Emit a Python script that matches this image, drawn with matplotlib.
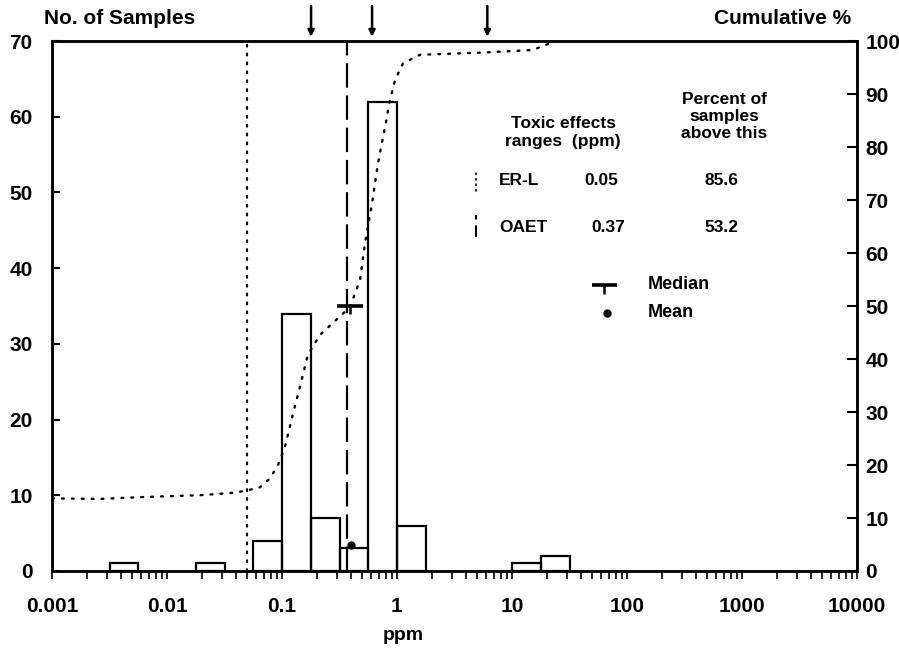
import numpy as np
import matplotlib
matplotlib.use("Agg")
import matplotlib.pyplot as plt
from matplotlib.ticker import FixedLocator, LogLocator, NullFormatter

plt.rcParams['font.family'] = ['Liberation Sans', 'DejaVu Sans']
plt.rcParams['font.weight'] = 'bold'

# ---------------- data ----------------
bin_left_log = [-2.5, -1.75, -1.25, -1.0, -0.75, -0.5, -0.25, 0.0, 1.0, 1.25]
bin_width_log = 0.25
counts = [1, 1, 4, 34, 7, 3, 62, 6, 1, 2]

cum_ppm = [0.001, 0.0026, 0.0071, 0.0194, 0.0353, 0.0477, 0.0644, 0.0787, 0.0923,
           0.106, 0.125, 0.143, 0.168, 0.213, 0.277, 0.39, 0.477, 0.527, 0.607,
           0.684, 0.787, 0.869, 0.961, 1.127, 1.585, 5.3, 15.2, 24.0, 10000]
cum_pct = [13.7, 13.6, 14.0, 14.3, 14.7, 15.1, 15.8, 17.5, 20.0,
           23.4, 29.8, 34.7, 40.8, 44.5, 46.8, 49.8, 54.9, 61.9, 69.4,
           77.0, 83.8, 88.9, 92.6, 95.8, 97.4, 97.8, 98.3, 100, 100]

erl_ppm = 0.05
oaet_ppm = 0.37
median_ppm, median_count = 0.39, 35
mean_ppm, mean_count = 0.40, 3.4
arrow_ppm = [0.179, 0.607, 6.1]

x_tick_vals = [0.001, 0.01, 0.1, 1, 10, 100, 1000, 10000]
x_tick_labels = ['0.001', '0.01', '0.1', '1', '10', '100', '1000', '10000']
y_left_ticks = [0, 10, 20, 30, 40, 50, 60, 70]
y_right_ticks = [0, 10, 20, 30, 40, 50, 60, 70, 80, 90, 100]

legend_rows = [("ER-L", "0.05", "85.6"), ("OAET", "0.37", "53.2")]

# ---------------- figure ----------------
W, H = 899, 653
fig = plt.figure(figsize=(W / 100, H / 100), dpi=100)
L, R, T, B = 52, 857, 41, 571
ax = fig.add_axes([L / W, 1 - B / H, (R - L) / W, (B - T) / H])
ax2 = ax.twinx()

ax.set_xscale('log')
ax.set_xlim(1e-3, 1e4)
ax.set_ylim(0, 70)
ax2.set_ylim(0, 100)

# histogram bars
lefts = [10 ** v for v in bin_left_log]
widths = [10 ** (v + bin_width_log) - 10 ** v for v in bin_left_log]
ax.bar(lefts, counts, width=widths, align='edge', fill=False,
       edgecolor='black', linewidth=1.6, zorder=3)

# guideline verticals
ax.axvline(erl_ppm, color='black', linewidth=1.6, linestyle=(0, (0.8, 3.2)),
           dash_capstyle='round', zorder=2)
ax.axvline(oaet_ppm, color='black', linewidth=1.6, linestyle=(0, (11, 3.5)), zorder=2)

# cumulative curve
ax2.plot(cum_ppm, cum_pct, color='black', linewidth=1.7,
         linestyle=(0, (0.8, 3.4)), dash_capstyle='round', zorder=4)

# median and mean
ax.plot([median_ppm], [median_count], marker='_', markersize=19, mew=2.6,
        color='black', linestyle='none', zorder=5)
ax.plot([median_ppm], [median_count - 0.4], marker='|', markersize=7, mew=1.8,
        color='black', linestyle='none', zorder=5)
ax.plot([mean_ppm], [mean_count], marker='o', markersize=5, color='black',
        linestyle='none', zorder=5)

# arrows above plot
for a in arrow_ppm:
    ax.annotate('', xy=(a, 1.008), xycoords=('data', 'axes fraction'),
                xytext=(a, 1.066), textcoords=('data', 'axes fraction'),
                arrowprops=dict(arrowstyle='-|>', color='black', lw=1.8,
                                mutation_scale=9, shrinkA=0, shrinkB=0),
                annotation_clip=False)

# axes styling
for sp in ax.spines.values():
    sp.set_linewidth(1.8)
for sp in ax2.spines.values():
    sp.set_linewidth(1.8)

ax.xaxis.set_major_locator(FixedLocator(x_tick_vals))
ax.set_xticklabels(x_tick_labels, fontsize=15, fontweight='bold')
ax.xaxis.set_minor_locator(LogLocator(base=10, subs=np.arange(2, 10), numticks=20))
ax.xaxis.set_minor_formatter(NullFormatter())
ax.tick_params(axis='x', which='both', direction='out', length=6, width=1.2,
               pad=13, top=False)

ax.set_yticks(y_left_ticks)
ax.set_yticklabels([str(v) for v in y_left_ticks], fontsize=15, fontweight='bold')
ax.tick_params(axis='y', which='major', direction='in', length=6, width=1.5, pad=14)

ax2.set_yticks(y_right_ticks)
ax2.set_yticklabels([str(v) for v in y_right_ticks], fontsize=15, fontweight='bold')
ax2.tick_params(axis='y', which='major', direction='in', length=7, width=1.5, pad=6)

# axis titles
fig.text(44 / W, 1 - 18 / H, "No. of Samples", fontsize=15, fontweight='bold',
         ha='left', va='center')
fig.text(851 / W, 1 - 18 / H, "Cumulative %", fontsize=15, fontweight='bold',
         ha='right', va='center')
fig.text(403 / W, 1 - 636 / H, "ppm", fontsize=14, fontweight='bold',
         ha='center', va='center')

# in-plot legend / table
tkw = dict(transform=ax.transAxes, fontsize=12.5, fontweight='bold', va='center')
ax.text(0.635, 0.845, "Toxic effects", ha='center', **tkw)
ax.text(0.635, 0.811, "ranges  (ppm)", ha='center', **tkw)
ax.text(0.835, 0.889, "Percent of", ha='center', **tkw)
ax.text(0.835, 0.857, "samples", ha='center', **tkw)
ax.text(0.835, 0.826, "above this", ha='center', **tkw)

row_y = [0.736, 0.649]
val_x = [0.682, 0.691]
for (name, val, pct), yy, vx in zip(legend_rows, row_y, val_x):
    ax.text(0.555, yy, name, ha='left', **tkw)
    ax.text(vx, yy, val, ha='center', **tkw)
    ax.text(0.832, yy, pct, ha='center', **tkw)

ax.plot([0.527, 0.527], [0.717, 0.755], transform=ax.transAxes, color='black',
        linewidth=1.2, linestyle=(0, (0.8, 2.5)), dash_capstyle='round')
ax.plot([0.527, 0.527], [0.630, 0.672], transform=ax.transAxes, color='black',
        linewidth=1.4, linestyle=(0, (6, 3)))

ax.plot([0.686], [0.540], transform=ax.transAxes, marker='_', markersize=18,
        mew=2.6, color='black', linestyle='none')
ax.plot([0.686], [0.533], transform=ax.transAxes, marker='|', markersize=7,
        mew=1.8, color='black', linestyle='none')
ax.plot([0.689], [0.487], transform=ax.transAxes, marker='o', markersize=5,
        color='black', linestyle='none')
mkw = dict(tkw)
mkw['fontsize'] = 13
ax.text(0.740, 0.540, "Median", ha='left', **mkw)
ax.text(0.740, 0.487, "Mean", ha='left', **mkw)

fig.savefig('out.png', dpi=100)
